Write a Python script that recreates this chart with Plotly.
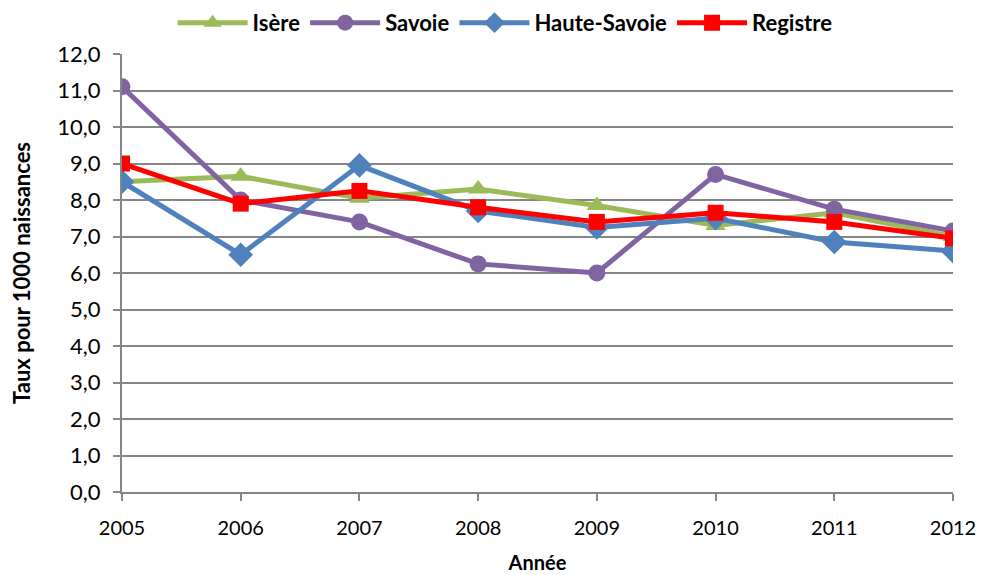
import plotly.graph_objects as go

years = [2005, 2006, 2007, 2008, 2009, 2010, 2011, 2012]
isere = [8.5, 8.65, 8.05, 8.3, 7.85, 7.3, 7.65, 7.0]
savoie = [11.1, 8.0, 7.4, 6.25, 6.0, 8.7, 7.75, 7.15]
haute_savoie = [8.5, 6.5, 8.95, 7.7, 7.25, 7.5, 6.85, 6.6]
registre = [9.0, 7.9, 8.25, 7.8, 7.4, 7.65, 7.4, 6.95]

series = [
    ("Isère", isere, "#9BBB59", "triangle-up", 18),
    ("Savoie", savoie, "#8064A2", "circle", 17),
    ("Haute-Savoie", haute_savoie, "#4F81BD", "diamond", 19),
    ("Registre", registre, "#FF0000", "square", 16),
]

fig = go.Figure()
for name, vals, color, symbol, size in series:
    fig.add_scatter(
        x=years,
        y=vals,
        name=name,
        mode="lines+markers",
        line=dict(color=color, width=5),
        marker=dict(symbol=symbol, size=size, color=color),
    )

axis_line = "#868686"
fig.update_layout(
    width=981,
    height=575,
    plot_bgcolor="white",
    paper_bgcolor="white",
    separators=", ",
    font=dict(family="Lato, sans-serif", size=22, color="black"),
    margin=dict(l=122, r=28, t=54, b=83, autoexpand=False),
    legend=dict(
        orientation="h",
        x=0.461,
        xanchor="center",
        y=1.119,
        yanchor="top",
        itemwidth=70,
        font=dict(size=22, family="Lato, sans-serif", weight="bold"),
    ),
    showlegend=True,
)
fig.update_xaxes(
    range=[2005, 2012],
    tickvals=years,
    tickfont=dict(size=20),
    ticks="outside",
    ticklen=7,
    tickcolor=axis_line,
    tickwidth=2,
    ticklabelstandoff=10,
    showline=True,
    linecolor=axis_line,
    linewidth=2,
    showgrid=False,
    zeroline=False,
    automargin=False,
    title=dict(text="<b>Année</b>", font=dict(size=20), standoff=18),
)
fig.update_yaxes(
    range=[0, 12],
    dtick=1,
    tickformat=".1f",
    ticks="outside",
    ticklen=7,
    tickcolor=axis_line,
    tickwidth=2,
    ticklabelstandoff=8,
    showline=True,
    linecolor=axis_line,
    linewidth=2,
    showgrid=True,
    gridcolor=axis_line,
    gridwidth=2,
    zeroline=False,
    automargin=False,
    title=dict(text="<b>Taux pour 1000 naissances</b>", font=dict(size=22), standoff=21),
)

# drop the default 8px body margin so the figure fills the window exactly
fig.write_html(
    "out.html",
    config={"displayModeBar": False},
    post_script="document.body.style.margin='0';",
)
